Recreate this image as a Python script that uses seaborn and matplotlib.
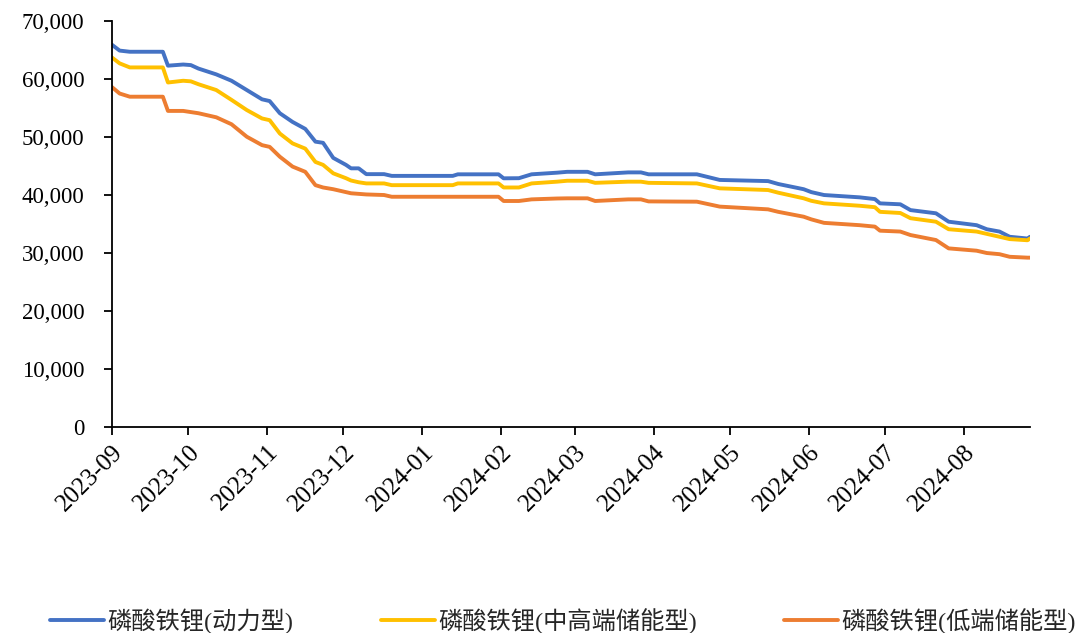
import pandas as pd
import matplotlib
matplotlib.use("Agg")
import matplotlib.pyplot as plt
import matplotlib.dates as mdates
from matplotlib.ticker import FuncFormatter
import seaborn as sns

# 磷酸铁锂价格 (元/吨)
dates = [
    "2023-09-01", "2023-09-04", "2023-09-08", "2023-09-21", "2023-09-23",
    "2023-09-29", "2023-10-02", "2023-10-05", "2023-10-12", "2023-10-18",
    "2023-10-24", "2023-10-30", "2023-11-02", "2023-11-06", "2023-11-11",
    "2023-11-16", "2023-11-20", "2023-11-23", "2023-11-27", "2023-12-02",
    "2023-12-04", "2023-12-07", "2023-12-10", "2023-12-17", "2023-12-20",
    "2024-01-13", "2024-01-15", "2024-01-31", "2024-02-02", "2024-02-08",
    "2024-02-13", "2024-02-23", "2024-02-27", "2024-03-06", "2024-03-09",
    "2024-03-22", "2024-03-27", "2024-03-30", "2024-04-18", "2024-04-27",
    "2024-05-16", "2024-05-20", "2024-05-30", "2024-06-02", "2024-06-07",
    "2024-06-21", "2024-06-27", "2024-06-29", "2024-07-07", "2024-07-11",
    "2024-07-21", "2024-07-26", "2024-08-06", "2024-08-10", "2024-08-15",
    "2024-08-19", "2024-08-26", "2024-08-27",
]
power = [
    65900, 64900, 64700, 64700, 62300,
    62500, 62400, 61800, 60800, 59700,
    58100, 56500, 56200, 54100, 52600,
    51400, 49200, 49000, 46400, 45200,
    44600, 44600, 43600, 43600, 43300,
    43300, 43570, 43570, 42880, 42900,
    43570, 43850, 44000, 44000, 43570,
    43900, 43900, 43570, 43570, 42600,
    42400, 41900, 41000, 40500, 40000,
    39600, 39300, 38560, 38400, 37400,
    36850, 35400, 34800, 34100, 33700,
    32800, 32500, 32800,
]
storage_mid_high = [
    63700, 62700, 62000, 62000, 59400,
    59700, 59600, 59100, 58100, 56400,
    54650, 53200, 52900, 50600, 48900,
    48000, 45700, 45200, 43740, 42900,
    42500, 42200, 42000, 42000, 41700,
    41700, 42000, 42000, 41300, 41300,
    42000, 42300, 42460, 42460, 42100,
    42300, 42300, 42100, 42000, 41150,
    40860, 40400, 39430, 39000, 38560,
    38150, 37900, 37100, 36900, 36000,
    35400, 34100, 33700, 33300, 32800,
    32400, 32200, 32500,
]
storage_low = [
    58600, 57500, 56950, 56950, 54500,
    54500, 54300, 54100, 53400, 52200,
    50050, 48600, 48300, 46600, 44900,
    44000, 41700, 41300, 41000, 40500,
    40300, 40200, 40100, 40000, 39700,
    39700, 39700, 39700, 38970, 38970,
    39250, 39400, 39430, 39430, 38970,
    39250, 39250, 38900, 38850, 38000,
    37530, 37100, 36260, 35800, 35200,
    34800, 34550, 33850, 33700, 33100,
    32240, 30800, 30400, 30000, 29800,
    29350, 29200, 29200,
]
series_names = ["磷酸铁锂(动力型)", "磷酸铁锂(中高端储能型)", "磷酸铁锂(低端储能型)"]
colors = ["#4472C4", "#FFC000", "#ED7D31"]
y_ticks = [0, 10000, 20000, 30000, 40000, 50000, 60000, 70000]

sns.set_theme(style="white")
plt.rcParams["font.family"] = ["Liberation Serif", "Noto Sans CJK SC", "DejaVu Sans"]

d = pd.to_datetime(dates)
df = pd.concat([
    pd.DataFrame({"date": d, "price": vals, "type": name})
    for name, vals in zip(series_names, [power, storage_mid_high, storage_low])
])

fig = plt.figure(figsize=(10.79, 6.33), dpi=100)
ax = fig.add_axes([0.1038, 0.3254, 0.8508, 0.6414])

sns.lineplot(data=df, x="date", y="price", hue="type", hue_order=series_names,
             palette=colors, linewidth=2.8, ax=ax)

ax.set_xlim(d[0], d[-1])
ax.set_ylim(0, 70000)
ax.set_yticks(y_ticks)
ax.yaxis.set_major_formatter(FuncFormatter(lambda v, p: f"{v:,.0f}"))
ax.xaxis.set_major_locator(mdates.MonthLocator())
ax.xaxis.set_major_formatter(mdates.DateFormatter("%Y-%m"))
ax.set_xlabel("")
ax.set_ylabel("")

for s in ["top", "right"]:
    ax.spines[s].set_visible(False)
for s in ["left", "bottom"]:
    ax.spines[s].set_color("black")
    ax.spines[s].set_linewidth(1.3)
ax.tick_params(axis="both", direction="out", length=6, width=1.3, color="black",
               labelcolor="black", bottom=True, left=True)
ax.tick_params(axis="y", pad=14, labelsize=16.5)
ax.tick_params(axis="x", pad=4, labelsize=18)
for lbl in ax.get_xticklabels():
    lbl.set_rotation(45)
    lbl.set_ha("right")
    lbl.set_rotation_mode("anchor")

handles, labels = ax.get_legend_handles_labels()
ax.get_legend().remove()
fig.legend(handles, labels, loc="center", bbox_to_anchor=(0.522, 0.019), ncol=3,
           frameon=False, fontsize=17.5, handlelength=2.2, handletextpad=0.15,
           columnspacing=3.6, borderpad=0.1)

fig.savefig("out.png", dpi=100)
plt.close(fig)
